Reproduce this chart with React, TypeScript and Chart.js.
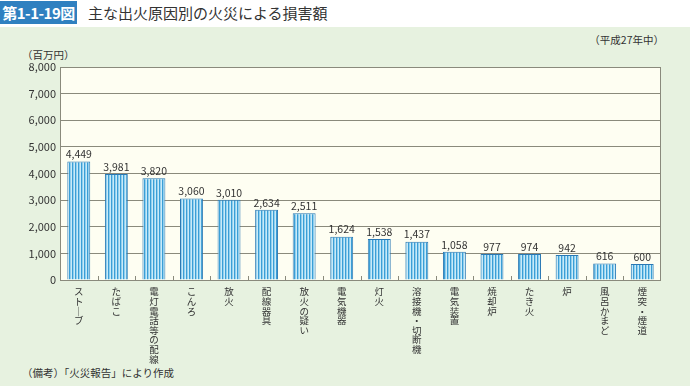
import React, { useEffect, useRef } from "react";
import { Chart, registerables } from "chart.js";

Chart.register(...registerables);

const categories = [
  "ストーブ",
  "たばこ",
  "電灯電話等の配線",
  "こんろ",
  "放火",
  "配線器具",
  "放火の疑い",
  "電気機器",
  "灯火",
  "溶接機・切断機",
  "電気装置",
  "焼却炉",
  "たき火",
  "炉",
  "風呂かまど",
  "煙突・煙道",
];
const damageValues = [4449, 3981, 3820, 3060, 3010, 2634, 2511, 1624, 1538, 1437, 1058, 977, 974, 942, 616, 600];
const yMax = 8000;
const yStep = 1000;

const FONT = "'Noto Sans CJK JP', 'Noto Sans', sans-serif";
const GRID = "#8a8a7c";
const TEXT = "#333333";

function makePattern(): CanvasPattern | string {
  const c = document.createElement("canvas");
  c.width = 3;
  c.height = 1;
  const g = c.getContext("2d");
  if (!g) return "#5bb4e5";
  const cols = ["#3b9ed6", "#92d0ee", "#c9eaf8"];
  cols.forEach((col, i) => {
    g.fillStyle = col;
    g.fillRect(i, 0, 1, 1);
  });
  return g.createPattern(c, "repeat") || "#5bb4e5";
}

const fmt = (v: number) => v.toLocaleString("en-US");

export default function App() {
  const ref = useRef<HTMLCanvasElement | null>(null);

  useEffect(() => {
    if (!ref.current) return;
    const pattern = makePattern();

    const decor = {
      id: "decor",
      beforeDraw(chart: any) {
        const { ctx, chartArea: a } = chart;
        ctx.save();
        ctx.fillStyle = "#fefef2";
        ctx.fillRect(a.left, a.top, a.right - a.left, a.bottom - a.top);
        ctx.restore();
      },
      afterDatasetsDraw(chart: any) {
        const { ctx, chartArea: a } = chart;
        const xs = chart.scales.x;
        ctx.save();
        ctx.strokeStyle = GRID;
        ctx.lineWidth = 1;
        ctx.strokeRect(a.left + 0.5, a.top + 0.5, a.right - a.left - 1, a.bottom - a.top);
        ctx.beginPath();
        for (let i = 1; i < categories.length; i++) {
          const x = Math.round((xs.getPixelForValue(i - 1) + xs.getPixelForValue(i)) / 2) + 0.5;
          ctx.moveTo(x, a.bottom);
          ctx.lineTo(x, a.bottom - 4);
        }
        ctx.stroke();
        const meta = chart.getDatasetMeta(0);
        ctx.fillStyle = TEXT;
        ctx.font = `10.5px ${FONT}`;
        ctx.textAlign = "center";
        ctx.textBaseline = "bottom";
        meta.data.forEach((el: any, i: number) => {
          ctx.fillText(fmt(damageValues[i]), el.x, el.y - 2);
        });
        ctx.restore();
      },
    };

    const chart = new Chart(ref.current, {
      type: "bar",
      data: {
        labels: categories,
        datasets: [
          {
            data: damageValues,
            backgroundColor: pattern as any,
            borderColor: "#2a78b4",
            borderWidth: 1,
            barPercentage: 0.61,
            categoryPercentage: 1,
          },
        ],
      },
      options: {
        animation: false,
        responsive: false,
        maintainAspectRatio: false,
        layout: { padding: { top: 67, right: 29, left: 0, bottom: 0 } },
        plugins: {
          legend: { display: false },
          tooltip: { enabled: false },
        },
        scales: {
          x: {
            grid: { display: false, drawTicks: false },
            border: { display: false },
            ticks: {
              color: TEXT,
              font: { family: FONT, size: 9.5, lineHeight: "9.6px" },
              padding: 7,
              maxRotation: 0,
              minRotation: 0,
              autoSkip: false,
              callback: (_v: any, i: number) =>
                Array.from(categories[i]).map((ch) => (ch === "ー" ? "｜" : ch)),
            },
            afterFit: (s: any) => {
              s.height = 106;
            },
          },
          y: {
            min: 0,
            max: yMax,
            grid: { color: GRID, drawTicks: false, lineWidth: 1 },
            border: { display: true, color: GRID },
            ticks: {
              stepSize: yStep,
              color: TEXT,
              font: { family: FONT, size: 11 },
              padding: 4,
              callback: (v: any) => fmt(Number(v)),
            },
            afterFit: (s: any) => {
              s.width = 60;
            },
          },
        },
      },
      plugins: [decor],
    });
    return () => chart.destroy();
  }, []);

  return (
    <div
      style={{
        position: "fixed",
        left: 0,
        top: 0,
        width: 690,
        height: 386,
        background: "#e7f2e0",
        fontFamily: FONT,
        color: TEXT,
        overflow: "hidden",
      }}
    >
      <div style={{ position: "absolute", left: 0, top: 0, width: 690, height: 27, background: "#ffffff" }} />
      <div
        style={{
          position: "absolute",
          left: 0,
          top: 1,
          width: 77,
          height: 23,
          background: "#2f80c0",
          color: "#ffffff",
          fontWeight: 700,
          fontSize: 15,
          lineHeight: "23px",
          textAlign: "center",
          letterSpacing: -0.5,
        }}
      >
        第1-1-19図
      </div>
      <div style={{ position: "absolute", left: 88, top: 1, fontSize: 15, lineHeight: "23px", color: "#333" }}>
        主な出火原因別の火災による損害額
      </div>
      <div style={{ position: "absolute", right: 26, top: 33, fontSize: 10.5, lineHeight: "14px" }}>（平成27年中）</div>
      <div style={{ position: "absolute", left: 22, top: 48, fontSize: 10.5, lineHeight: "14px" }}>（百万円）</div>
      <div style={{ position: "absolute", left: 22, top: 366, fontSize: 10.5, lineHeight: "14px" }}>
        （備考）「火災報告」により作成
      </div>
      <canvas ref={ref} width={690} height={386} style={{ position: "absolute", left: 0, top: 0 }} />
    </div>
  );
}
